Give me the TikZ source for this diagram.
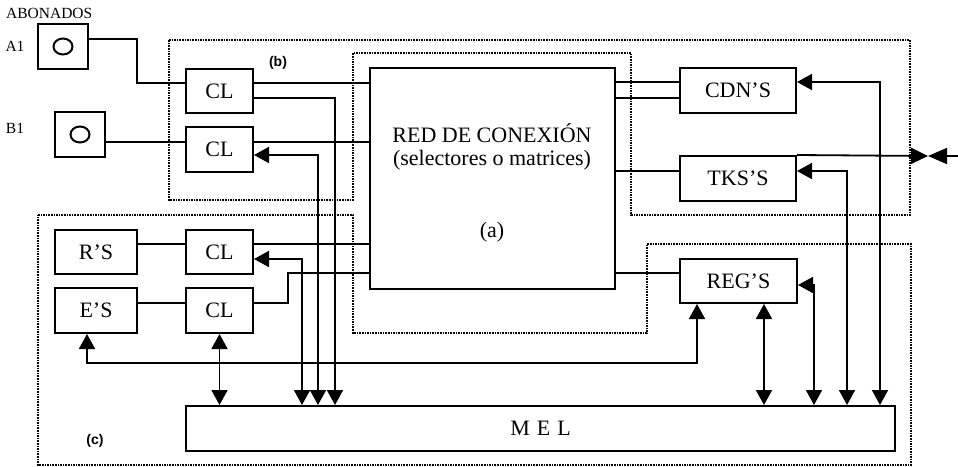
\documentclass[tikz,border=0pt]{standalone}
\usepackage{fontspec}
\setmainfont{Liberation Serif}
\newfontfamily\lblsans{Liberation Sans}
\usetikzlibrary{arrows.meta,calc}
\begin{document}
\begin{tikzpicture}[x=1pt,y=-1pt,
  box/.style={draw,line width=2pt,inner sep=0pt,font=\fontsize{22}{24}\selectfont},
  con/.style={line width=1.8pt},
  tip/.style={-{Triangle[length=15pt,width=16pt]}},
  dtip/.style={{Triangle[length=15pt,width=16pt]}-{Triangle[length=15pt,width=16pt]}},
  zone/.style={line width=1.6pt,densely dotted},
  lbl/.style={font=\fontsize{15.5}{17}\selectfont,inner sep=0pt},
  zlbl/.style={font=\lblsans\bfseries\fontsize{14}{16}\selectfont,inner sep=0pt},
  big/.style={font=\fontsize{22}{23}\selectfont,inner sep=0pt}]
\fill[white] (0,0) rectangle (958,466);
\useasboundingbox (0,0) rectangle (958,466);

% dotted zones
\draw[zone] (169,40) -- (910,40) -- (910,215) -- (631,215) -- (631,53) -- (353,53) -- (353,200) -- (169,200) -- cycle;
\draw[zone] (38,215) -- (353,215) -- (353,333) -- (647,333) -- (647,244) -- (911,244) -- (911,465) -- (38,465) -- cycle;

% labels
\node[lbl,anchor=west] (abon) at (6,13) {ABONADOS};
\node[lbl] (la1) at (15,46) {A1};
\node[lbl] (lb1) at (15,128) {B1};
\node[zlbl] (lb) at (278,63) {(b)};
\node[zlbl] (lc) at (95,441) {(c)};

% boxes
\node[box,minimum width=50pt,minimum height=45pt] (A1) at (63,46.5) {};
\node[box,minimum width=50pt,minimum height=45pt] (B1) at (80,134.5) {};
\draw[line width=2pt] (A1.center) ellipse (9.5 and 8);
\draw[line width=2pt] (B1.center) ellipse (9.5 and 8);

\node[box,minimum width=67pt,minimum height=44pt] (CL1) at (219.5,91) {CL};
\node[box,minimum width=67pt,minimum height=45pt] (CL2) at (219.5,149.5) {CL};
\node[box,minimum width=67pt,minimum height=44pt] (CL3) at (219.5,252) {CL};
\node[box,minimum width=67pt,minimum height=45pt] (CL4) at (219.5,310.5) {CL};
\node[box,minimum width=82pt,minimum height=44pt] (RS) at (96,252) {R'S};
\node[box,minimum width=82pt,minimum height=45pt] (ES) at (96,310.5) {E'S};
\node[box,minimum width=245pt,minimum height=221pt] (RED) at (492.5,178.5) {};
\node[big,align=center] (redt) at (492,146.5) {RED DE CONEXIÓN\\(selectores o matrices)};
\node[big] (reda) at (492,232) {(a)};
\node[box,minimum width=116pt,minimum height=45pt] (CDN) at (738,90.5) {CDN'S};
\node[box,minimum width=116pt,minimum height=45pt] (TKS) at (738,178.5) {TKS'S};
\node[box,minimum width=117pt,minimum height=44pt] (REG) at (738.5,281) {REG'S};
\node[box,minimum width=709pt,minimum height=45pt] (MEL) at (540.5,428.5) {M\hspace{7pt}E\hspace{7pt}L};

% subscribers to line circuits
\draw[con] ([yshift=7.5pt]A1.east) -| ($(A1.east)!.5!(CL1.west)$) |- ([yshift=8pt]CL1.west);
\draw[con] ([yshift=-7.5pt]B1.east) -- ([yshift=7.5pt]CL2.west);
\draw[con] ([yshift=8pt]RS.east) -- ([yshift=8pt]CL3.west);
\draw[con] ([yshift=7.5pt]ES.east) -- ([yshift=7.5pt]CL4.west);

% line circuits to network
\draw[con] ([yshift=8pt]CL1.east) -- ([yshift=8pt]CL1.east -| RED.west);
\draw[con] ([yshift=7.5pt]CL2.east) -- ([yshift=7.5pt]CL2.east -| RED.west);
\draw[con] ([yshift=8pt]CL3.east) -- ([yshift=8pt]CL3.east -| RED.west);
\draw[con] ([yshift=7.5pt]CL4.east) -- ++(34,0) |- ([yshift=-94.5pt]RED.west);

% line circuits and MEL
\draw[con,tip] ([yshift=-7pt]CL1.east) -| ([xshift=150pt]MEL.north west);
\draw[con,dtip] ([xshift=133pt]MEL.north west) |- ([yshift=-5.5pt]CL2.east);
\draw[con,dtip] ([xshift=117pt]MEL.north west) |- ([yshift=-7pt]CL3.east);
\draw[con,dtip] (CL4.south) -- (CL4.south |- MEL.north);
\draw[con,dtip] ([xshift=-9pt]ES.south) -- ++(0,29) -| ([xshift=-41.5pt]REG.south);

% network to right side
\draw[con] ([yshift=8.5pt]CDN.west) -- ([yshift=8.5pt]CDN.west -| RED.east);
\draw[con] ([yshift=-7.5pt]CDN.west) -- ([yshift=-7.5pt]CDN.west -| RED.east);
\draw[con] ([yshift=7.5pt]TKS.west) -- ([yshift=7.5pt]TKS.west -| RED.east);
\draw[con] ([yshift=8pt]REG.west) -- ([yshift=8pt]REG.west -| RED.east);

% right side and MEL
\draw[con,dtip] ([xshift=-16pt]MEL.north east) |- ([yshift=8.5pt]CDN.east);
\draw[con,dtip] ([xshift=-49pt]MEL.north east) |- ([yshift=7.5pt]TKS.east);
\draw[con,dtip] ([xshift=-82pt]MEL.north east) |- ([yshift=-4pt]REG.east);
\draw[con,dtip] ([xshift=25.5pt]REG.south) -- ([xshift=25.5pt]REG.south |- MEL.north);

% external junction
\coordinate (meet) at (928,156);
\coordinate (ext) at (958,156);
\draw[con,-{Triangle[length=17pt,width=16pt]}] (TKS.north east) -- (meet);
\draw[con,-{Triangle[length=19pt,width=16pt]}] (ext) -- (meet);
\end{tikzpicture}
\end{document}
